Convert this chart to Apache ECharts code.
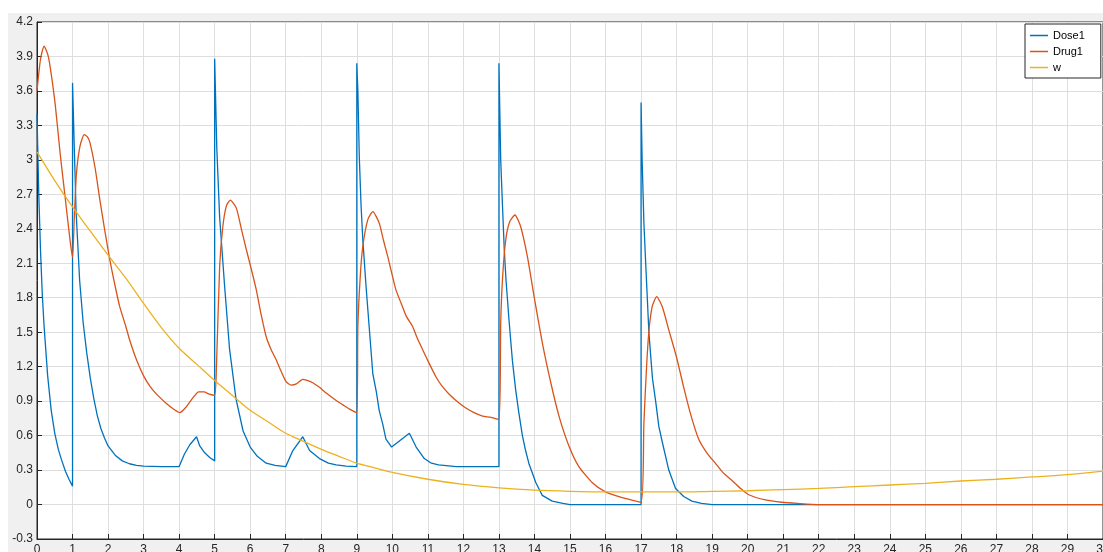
<!DOCTYPE html>
<html>
<head>
<meta charset="utf-8">
<title>Dose1 / Drug1 / w</title>
<script src="https://cdn.jsdelivr.net/npm/echarts@6/dist/echarts.min.js"></script>
<style>
  html, body { margin: 0; padding: 0; background: #ffffff; }
  #chart { position: absolute; left: 8px; top: 13px; width: 1095px; height: 539px; }
</style>
</head>
<body>
<div id="chart"></div>
<script>
// Time axis ticks (hours) and value axis ticks
const xTicks = { min: 0, max: 30, step: 1 };
const yTicks = { min: -0.3, max: 4.2, step: 0.3 };

const seriesNames = ['Dose1', 'Drug1', 'w'];
const seriesColors = ['#0072BD', '#D95319', '#EDB120'];

// Dose1: [time, value] — repeated times mark the instantaneous dosing jumps
const dose1 = [
  [0, 3.4], [0.05, 2.7], [0.1, 2.2], [0.15, 1.82], [0.2, 1.55], [0.3, 1.12], [0.4, 0.82], [0.5, 0.62],
  [0.6, 0.48], [0.7, 0.38], [0.8, 0.29], [0.9, 0.22], [1, 0.16],
  [1, 3.67], [1.05, 3.1], [1.1, 2.55], [1.2, 1.95], [1.3, 1.58], [1.4, 1.32], [1.5, 1.1], [1.6, 0.92],
  [1.7, 0.77], [1.8, 0.66], [1.9, 0.58], [2, 0.51], [2.2, 0.43], [2.4, 0.38], [2.6, 0.355], [2.8, 0.34],
  [3, 0.335], [3.5, 0.33], [4, 0.33], [4.15, 0.44], [4.3, 0.52], [4.49, 0.59], [4.58, 0.51], [4.72, 0.45],
  [4.86, 0.41], [5, 0.38],
  [5, 3.88], [5.06, 3.1], [5.14, 2.5], [5.28, 1.9], [5.42, 1.35], [5.6, 0.92], [5.8, 0.64], [6, 0.5],
  [6.2, 0.42], [6.45, 0.36], [6.7, 0.34], [7, 0.33], [7.2, 0.47], [7.48, 0.59], [7.67, 0.47], [7.95, 0.4],
  [8.2, 0.36], [8.42, 0.345], [8.7, 0.335], [9, 0.33],
  [9, 3.84], [9.03, 3.6], [9.07, 3.03], [9.12, 2.6], [9.17, 2.3], [9.26, 1.9], [9.31, 1.7], [9.45, 1.14],
  [9.55, 0.98], [9.63, 0.82], [9.73, 0.7], [9.82, 0.57], [9.98, 0.5], [10.48, 0.62], [10.67, 0.5],
  [10.9, 0.4], [11.1, 0.36], [11.3, 0.345], [11.8, 0.33], [13, 0.33],
  [13, 3.84], [13.05, 3.0], [13.1, 2.6], [13.15, 2.22], [13.2, 1.95], [13.29, 1.58], [13.38, 1.25],
  [13.47, 1.0], [13.56, 0.8], [13.66, 0.6], [13.75, 0.47], [13.85, 0.35], [14.04, 0.19], [14.22, 0.08],
  [14.5, 0.03], [14.8, 0.01], [15, 0], [17, 0],
  [17, 3.5], [17.03, 3.0], [17.08, 2.45], [17.13, 2.1], [17.22, 1.5], [17.32, 1.1], [17.41, 0.9],
  [17.5, 0.68], [17.6, 0.54], [17.78, 0.3], [17.97, 0.14], [18.2, 0.07], [18.43, 0.03], [18.7, 0.01],
  [19, 0], [30, 0]
];

// Drug1: [time, value]
const drug1 = [
  [0, 3.6], [0.1, 3.88], [0.2, 3.99], [0.3, 3.92], [0.37, 3.81], [0.51, 3.49], [0.65, 3.06], [0.79, 2.68],
  [0.93, 2.3], [1, 2.15],
  [1.05, 2.5], [1.11, 2.88], [1.21, 3.12], [1.33, 3.22], [1.42, 3.2], [1.49, 3.15], [1.63, 2.94],
  [1.77, 2.65], [1.9, 2.4], [2.05, 2.13], [2.2, 1.9], [2.33, 1.72], [2.5, 1.55], [2.61, 1.43], [2.8, 1.26],
  [3, 1.12], [3.2, 1.02], [3.4, 0.95], [3.64, 0.88], [3.85, 0.83], [4.02, 0.8], [4.2, 0.85], [4.39, 0.93],
  [4.55, 0.98], [4.7, 0.98], [4.85, 0.96], [5, 0.95],
  [5.05, 1.2], [5.14, 2.07], [5.23, 2.42], [5.33, 2.6], [5.44, 2.65], [5.61, 2.58], [5.75, 2.4],
  [5.89, 2.22], [6.03, 2.05], [6.17, 1.87], [6.31, 1.65], [6.45, 1.46], [6.6, 1.34], [6.73, 1.26],
  [6.87, 1.16], [7.01, 1.07], [7.15, 1.04], [7.3, 1.05], [7.48, 1.09], [7.6, 1.08], [7.76, 1.06],
  [7.95, 1.02], [8.14, 0.97], [8.4, 0.91], [8.6, 0.87], [8.8, 0.83], [9, 0.8],
  [9.03, 1.55], [9.1, 2.0], [9.17, 2.25], [9.31, 2.48], [9.45, 2.55], [9.63, 2.45], [9.75, 2.3],
  [9.87, 2.16], [10.1, 1.87], [10.25, 1.75], [10.39, 1.64], [10.57, 1.55], [10.7, 1.45], [10.85, 1.35],
  [11.05, 1.22], [11.23, 1.11], [11.4, 1.03], [11.6, 0.96], [11.85, 0.89], [12.07, 0.84], [12.3, 0.8],
  [12.54, 0.77], [12.75, 0.76], [13, 0.74],
  [13.05, 1.58], [13.1, 1.96], [13.19, 2.3], [13.3, 2.46], [13.45, 2.52], [13.61, 2.42], [13.8, 2.16],
  [13.99, 1.81], [14.22, 1.41], [14.46, 1.06], [14.69, 0.77], [14.97, 0.51], [15.25, 0.33], [15.63, 0.19],
  [16, 0.11], [16.47, 0.06], [17, 0.02],
  [17.08, 0.71], [17.2, 1.43], [17.31, 1.72], [17.44, 1.81], [17.6, 1.72], [17.78, 1.52], [18, 1.28],
  [18.2, 1.02], [18.4, 0.78], [18.62, 0.57], [18.85, 0.45], [19.09, 0.36], [19.3, 0.28], [19.56, 0.21],
  [19.8, 0.14], [20.03, 0.085], [20.5, 0.04], [20.96, 0.02], [21.4, 0.01], [22, 0], [30, 0]
];

// w: [time, value]
const w = [
  [0, 3.07], [0.5, 2.82], [1, 2.59], [1.5, 2.38], [2, 2.17], [2.5, 1.97], [3, 1.75], [3.5, 1.54],
  [4, 1.36], [4.5, 1.22], [5, 1.08], [5.5, 0.95], [6, 0.82], [6.5, 0.72], [7, 0.62], [7.5, 0.55],
  [8, 0.48], [8.5, 0.42], [9, 0.36], [9.5, 0.32], [10, 0.28], [11, 0.22], [12, 0.175], [13, 0.145],
  [14, 0.125], [15, 0.115], [16, 0.11], [17, 0.11], [18, 0.11], [19, 0.115], [20, 0.12], [21, 0.13],
  [22, 0.14], [23, 0.155], [24, 0.17], [25, 0.185], [26, 0.205], [27, 0.22], [28, 0.24], [29, 0.26],
  [30, 0.29]
];

const FONT = '"Liberation Sans", Arial, Helvetica, sans-serif';
const INK = '#262626';
const GRID_LINE = '#dedede';

const chart = echarts.init(document.getElementById('chart'), null, { renderer: 'canvas' });

// Plain polyline; a small smoothing factor rounds the peaks of the continuous curves
function line(name, data, color, smooth) {
  return {
    name: name,
    type: 'line',
    data: data,
    showSymbol: false,
    symbol: 'none',
    smooth: smooth || false,
    lineStyle: { color: color, width: 1.3 },
    itemStyle: { color: color },
    emphasis: { disabled: true },
    silent: true
  };
}

chart.setOption({
  animation: false,
  backgroundColor: '#f0f0f0',
  textStyle: { fontFamily: FONT },
  grid: {
    left: 29, top: 9, right: 0, bottom: 13,
    outerBoundsMode: 'none',
    containLabel: false,
    show: true,
    backgroundColor: '#ffffff',
    borderColor: INK,
    borderWidth: 1
  },
  legend: {
    data: seriesNames,
    orient: 'vertical',
    left: 1017,
    top: 11,
    backgroundColor: '#ffffff',
    borderColor: INK,
    borderWidth: 1,
    borderRadius: 0,
    padding: [5, 16, 4, 5],
    itemGap: 3,
    itemWidth: 18,
    itemHeight: 1.5,
    itemTextGap: 4,
    icon: 'rect',
    selectedMode: false,
    textStyle: { fontFamily: FONT, fontSize: 11, color: '#000000', lineHeight: 13 }
  },
  xAxis: {
    type: 'value',
    min: xTicks.min,
    max: xTicks.max,
    interval: xTicks.step,
    axisLine: { show: true, onZero: false, lineStyle: { color: INK, width: 1 } },
    axisTick: { show: true, inside: true, length: 5, lineStyle: { color: INK } },
    axisLabel: { color: INK, fontSize: 12, margin: 5, fontFamily: FONT, showMaxLabel: true, hideOverlap: false },
    splitLine: { show: true, lineStyle: { color: GRID_LINE, width: 1 } }
  },
  yAxis: {
    type: 'value',
    min: yTicks.min,
    max: yTicks.max,
    interval: yTicks.step,
    axisLine: { show: true, onZero: false, lineStyle: { color: INK, width: 1 } },
    axisTick: { show: true, inside: true, length: 5, lineStyle: { color: INK } },
    axisLabel: {
      color: INK, fontSize: 12, margin: 4, fontFamily: FONT,
      formatter: v => String(Number(v.toFixed(1)))
    },
    splitLine: { show: true, lineStyle: { color: GRID_LINE, width: 1 } }
  },
  series: [
    line(seriesNames[0], dose1, seriesColors[0], false),
    line(seriesNames[1], drug1, seriesColors[1], 0.2),
    line(seriesNames[2], w, seriesColors[2], 0.3)
  ]
});
</script>
</body>
</html>
